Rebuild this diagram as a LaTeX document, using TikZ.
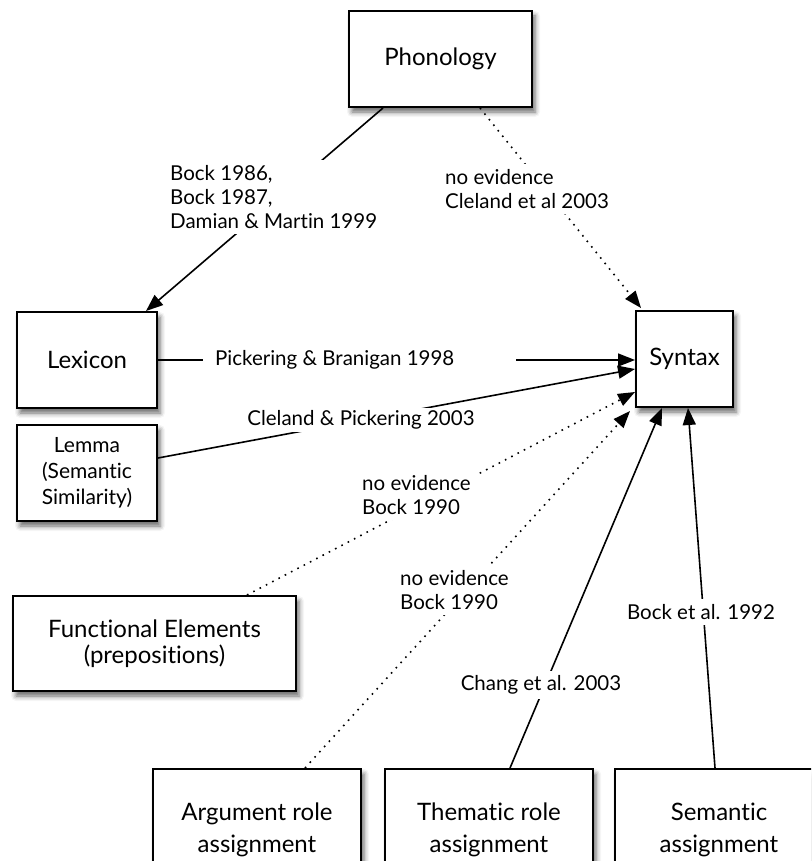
\documentclass[tikz,border=0pt]{standalone}
\usepackage{fontspec}
\setmainfont{Lato}[Ligatures=NoCommon]
\usetikzlibrary{arrows.meta,shadows.blur}

\tikzset{
  box/.style={draw=black, line width=2pt, fill=white, inner sep=0pt,
    align=center, font=\fontsize{24}{26}\selectfont,
    blur shadow={shadow xshift=3pt, shadow yshift=-5pt,
      shadow blur radius=5pt, shadow opacity=60}},
  smallbox/.style={box, font=\fontsize{21}{26}\selectfont},
  tallbox/.style={box, font=\fontsize{24}{32}\selectfont},
  link/.style={line width=1.6pt, -{Triangle[length=17pt,width=13pt]}},
  nolink/.style={link, dash pattern=on 1.6pt off 5.5pt},
  lbl/.style={fill=white, inner sep=5pt, align=left,
    font=\fontsize{20.5}{24}\selectfont}
}

\begin{document}
\begin{tikzpicture}[x=1pt,y=-1pt]
  \useasboundingbox (0,0) rectangle (811,861);
  \clip (0,0) rectangle (811,861);

  % modules
  \node[box, minimum width=183pt, minimum height=96pt] (phon) at (440.5,59) {Phonology};
  \node[box, minimum width=140pt, minimum height=96pt] (lex) at (87,360) {Lexicon};
  \node[smallbox, minimum width=140pt, minimum height=96pt] (lem) at (87,473)
    {Lemma\\(Semantic\\Similarity)};
  \node[box, minimum width=97pt, minimum height=96pt] (syn) at (684.5,359) {Syntax};
  \node[box, minimum width=283pt, minimum height=95pt] (func) at (154.5,643.5)
    {Functional Elements\\(prepositions)};
  % bottom row runs past the lower edge
  \node[tallbox, minimum width=208pt, minimum height=122pt] (arg) at (257,830)
    {Argument role\\assignment};
  \node[tallbox, minimum width=208pt, minimum height=122pt] (them) at (489,830)
    {Thematic role\\assignment};
  \node[tallbox, minimum width=208pt, minimum height=122pt] (sem) at (719,830)
    {Semantic\\assignment};

  % priming links
  \draw[link] ([xshift=-57.5pt]phon.south) -- ([xshift=59pt]lex.north);
  \draw[nolink] ([xshift=39.5pt]phon.south) -- ([xshift=6pt,yshift=2pt]syn.north west);
  \draw[link] (lex.east) -- (lex.east -| syn.west);
  \draw[link] ([yshift=15pt]lem.east) -- ([yshift=-10pt]syn.west);
  \draw[nolink] ([xshift=92.5pt]func.north) -- ([yshift=-33pt]syn.west);
  \draw[nolink] ([xshift=48pt]arg.north) -- ([xshift=-5pt,yshift=-3pt]syn.south west);
  \draw[link] ([xshift=21pt]them.north) -- ([xshift=-22.5pt]syn.south);
  \draw[link] ([xshift=-4pt]sem.north) -- ([xshift=3.5pt]syn.south);

  % link labels
  \node[lbl, anchor=west] (l1) at (165,197) {Bock 1986,\\Bock 1987,\\Damian \& Martin 1999};
  \node[lbl, anchor=west] (l2) at (440,189) {no evidence\\Cleland et al 2003};
  \node[lbl, anchor=west, inner xsep=12pt, inner ysep=3pt] (l3)
    at (203,360) {Pickering \& Branigan 1998\hspace*{50pt}};
  \node[lbl, inner ysep=3pt] (l4) at (361,420) {Cleland \& Pickering 2003};
  \node[lbl, anchor=west] (l5) at (357,495) {no evidence\\Bock 1990};
  \node[lbl, anchor=west] (l6) at (395,590) {no evidence\\Bock 1990};
  \node[lbl] (l7) at (541,685) {Chang et al. 2003};
  \node[lbl] (l8) at (701,612) {Bock et al. 1992};
\end{tikzpicture}
\end{document}
